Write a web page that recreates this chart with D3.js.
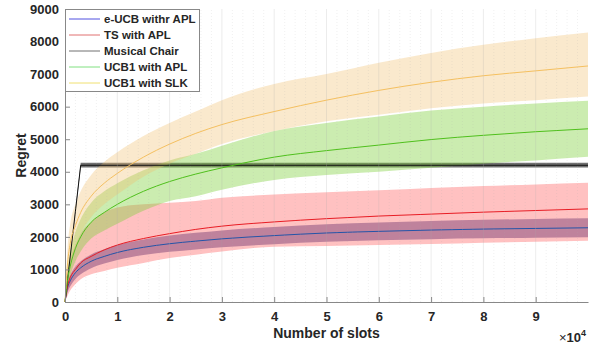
<!DOCTYPE html>
<html>
<head>
<meta charset="utf-8">
<script src="https://cdn.jsdelivr.net/npm/d3@7"></script>
<style>
  body { margin: 0; background: #fff; }
  svg { font-family: "Liberation Sans", Arial, sans-serif; font-weight: bold; }
</style>
</head>
<body>
<div id="chart"></div>
<script>
// slots, in units of 10^4
const slots = [0, 0.05, 0.1, 0.2, 0.3, 0.5, 0.75, 1, 1.5, 2, 2.5, 3, 4, 5, 6, 7, 8, 9, 10];

const eucbMean  = [0, 450, 650, 900, 1050, 1250, 1400, 1520, 1680, 1790, 1870, 1940, 2040, 2120, 2170, 2210, 2240, 2260, 2280];
const eucbUpper = [0, 600, 820, 1090, 1250, 1460, 1620, 1750, 1920, 2040, 2125, 2200, 2305, 2390, 2445, 2490, 2525, 2550, 2570];
const eucbLower = [0, 300, 480, 710, 850, 1040, 1180, 1290, 1440, 1540, 1615, 1680, 1775, 1850, 1895, 1930, 1955, 1970, 1990];

const tsMean  = [0, 500, 750, 1000, 1200, 1400, 1600, 1750, 1950, 2100, 2230, 2330, 2460, 2560, 2640, 2700, 2760, 2810, 2860];
const tsUpper = [0, 900, 1300, 1750, 2100, 2450, 2750, 2900, 3000, 3050, 3100, 3200, 3300, 3370, 3430, 3500, 3560, 3610, 3660];
const tsLower = [0, 200, 350, 550, 700, 850, 950, 1050, 1200, 1350, 1450, 1550, 1700, 1720, 1750, 1780, 1820, 1850, 1880];

const mcSlots = [0, 0.3, 1, 2, 3, 4, 5, 6, 7, 8, 9, 10];
const mcMean  = [0, 4200, 4200, 4200, 4200, 4200, 4200, 4200, 4200, 4200, 4200, 4200];
const mcUpper = [0, 4280, 4280, 4280, 4280, 4280, 4280, 4280, 4280, 4280, 4280, 4280];
const mcLower = [0, 4130, 4130, 4130, 4130, 4130, 4130, 4130, 4130, 4130, 4130, 4130];

const aplMean  = [0, 700, 1100, 1650, 2000, 2450, 2750, 3000, 3400, 3700, 3930, 4120, 4450, 4650, 4820, 4990, 5120, 5230, 5320];
const aplUpper = [0, 1000, 1500, 2150, 2550, 3050, 3400, 3650, 4050, 4350, 4550, 4800, 5250, 5500, 5700, 5880, 6000, 6100, 6185];
const aplLower = [0, 450, 800, 1250, 1550, 1950, 2200, 2400, 2800, 3100, 3250, 3450, 3750, 3900, 4000, 4120, 4250, 4350, 4460];

const slkMean  = [0, 1200, 1800, 2350, 2750, 3250, 3650, 3950, 4450, 4850, 5180, 5450, 5850, 6200, 6500, 6750, 6950, 7100, 7250];
const slkUpper = [0, 1700, 2400, 3000, 3400, 3900, 4300, 4600, 5100, 5500, 5850, 6200, 6700, 7000, 7350, 7650, 7900, 8100, 8280];
const slkLower = [0, 700, 1200, 1700, 2100, 2600, 3000, 3300, 3850, 4250, 4550, 4850, 5250, 5550, 5750, 5950, 6100, 6200, 6310];

const legendNames = ['e-UCB withr APL', 'TS with APL', 'Musical Chair', 'UCB1 with APL', 'UCB1 with SLK'];
const legendColors = ['#5050e0', '#e07070', '#707070', '#80e080', '#f0e070'];
const yTicks = [0, 1000, 2000, 3000, 4000, 5000, 6000, 7000, 8000, 9000];
const xTicks = [0, 1, 2, 3, 4, 5, 6, 7, 8, 9];

const width = 597, height = 347;
const margin = { top: 9, right: 9, bottom: 45, left: 65 };

const svg = d3.select('#chart').append('svg')
  .attr('width', width)
  .attr('height', height);

const x = d3.scaleLinear().domain([0, 10]).range([margin.left, width - margin.right]);
const y = d3.scaleLinear().domain([0, 9000]).range([height - margin.bottom, margin.top]);

const series = [
  { xs: slots, mean: eucbMean, up: eucbUpper, lo: eucbLower, band: '#3b3f8f', bandOp: 0.5, line: '#2454a8', curve: d3.curveMonotoneX },
  { xs: slots, mean: tsMean, up: tsUpper, lo: tsLower, band: '#ff4d4d', bandOp: 0.35, line: '#e81c24', curve: d3.curveMonotoneX },
  { xs: mcSlots, mean: mcMean, up: mcUpper, lo: mcLower, band: '#333', bandOp: 0.7, line: '#111', curve: d3.curveLinear },
  { xs: slots, mean: aplMean, up: aplUpper, lo: aplLower, band: '#7ccf3a', bandOp: 0.4, line: '#4fc01c', curve: d3.curveMonotoneX },
  { xs: slots, mean: slkMean, up: slkUpper, lo: slkLower, band: '#f0c070', bandOp: 0.35, line: '#f5c060', curve: d3.curveMonotoneX }
];

// shaded bands
series.forEach(s => {
  const area = d3.area()
    .x((d, i) => x(s.xs[i]))
    .y0((d, i) => y(s.lo[i]))
    .y1((d, i) => y(s.up[i]))
    .curve(s.curve);
  svg.append('path')
    .attr('d', area(s.xs))
    .attr('fill', s.band)
    .attr('fill-opacity', s.bandOp);
});

// mean lines
series.forEach(s => {
  const line = d3.line()
    .x((d, i) => x(s.xs[i]))
    .y((d, i) => y(s.mean[i]))
    .curve(s.curve);
  svg.append('path')
    .attr('d', line(s.xs))
    .attr('fill', 'none')
    .attr('stroke', s.line)
    .attr('stroke-width', 1);
});

// vertical grid (drawn on top, as in the original)
const minor = d3.range(0.2, 10, 0.2);
svg.append('g')
  .selectAll('line')
  .data(minor)
  .join('line')
  .attr('x1', d => x(d)).attr('x2', d => x(d))
  .attr('y1', y(0)).attr('y2', y(9000))
  .attr('stroke', '#aaa')
  .attr('stroke-opacity', d => Math.abs(d - Math.round(d)) < 1e-6 ? 0.22 : 0.18)
  .attr('stroke-dasharray', d => Math.abs(d - Math.round(d)) < 1e-6 ? null : '1,2')
  .attr('stroke-width', 1);

// axes
const xAxis = svg.append('g')
  .attr('transform', `translate(0,${y(0)})`)
  .call(d3.axisBottom(x).tickValues(xTicks).tickFormat(d3.format('d')).tickSizeInner(-5).tickSizeOuter(0).tickPadding(10));
const yAxis = svg.append('g')
  .attr('transform', `translate(${x(0)},0)`)
  .call(d3.axisLeft(y).tickValues(yTicks).tickFormat(d3.format('d')).tickSizeInner(-5).tickSizeOuter(0).tickPadding(6));

[xAxis, yAxis].forEach(g => {
  g.select('.domain').attr('stroke', '#888');
  g.selectAll('.tick line').attr('stroke', '#888');
  g.selectAll('.tick text')
    .attr('fill', '#262626')
    .style('font-size', '13px')
    .style('font-weight', 'bold')
    .style('font-family', '"Liberation Sans", Arial, sans-serif');
});

// axis labels
svg.append('text')
  .attr('x', (x(0) + x(10)) / 2)
  .attr('y', 338)
  .attr('text-anchor', 'middle')
  .attr('fill', '#262626')
  .style('font-size', '14px')
  .text('Number of slots');

svg.append('text')
  .attr('transform', `translate(26,${(y(0) + y(9000)) / 2}) rotate(-90)`)
  .attr('text-anchor', 'middle')
  .attr('fill', '#262626')
  .style('font-size', '14px')
  .text('Regret');

const mult = svg.append('text')
  .attr('x', 559)
  .attr('y', 342)
  .attr('fill', '#262626')
  .style('font-size', '13px');
mult.append('tspan').style('font-weight', 'normal').text('\u00d7');
mult.append('tspan').text('10');
mult.append('tspan').attr('dy', -6).style('font-size', '9px').text('4');

// legend
const legend = svg.append('g');
legend.append('rect')
  .attr('x', 65.5).attr('y', 9.5)
  .attr('width', 134).attr('height', 82)
  .attr('fill', '#fff')
  .attr('stroke', '#888');

legendNames.forEach((name, i) => {
  const ly = 19 + i * 16;
  legend.append('line')
    .attr('x1', 69).attr('x2', 100)
    .attr('y1', ly).attr('y2', ly)
    .attr('stroke', legendColors[i])
    .attr('stroke-width', 1);
  legend.append('text')
    .attr('x', 104).attr('y', ly + 4)
    .attr('fill', '#262626')
    .style('font-size', '11.5px')
    .text(name);
});
</script>
</body>
</html>
